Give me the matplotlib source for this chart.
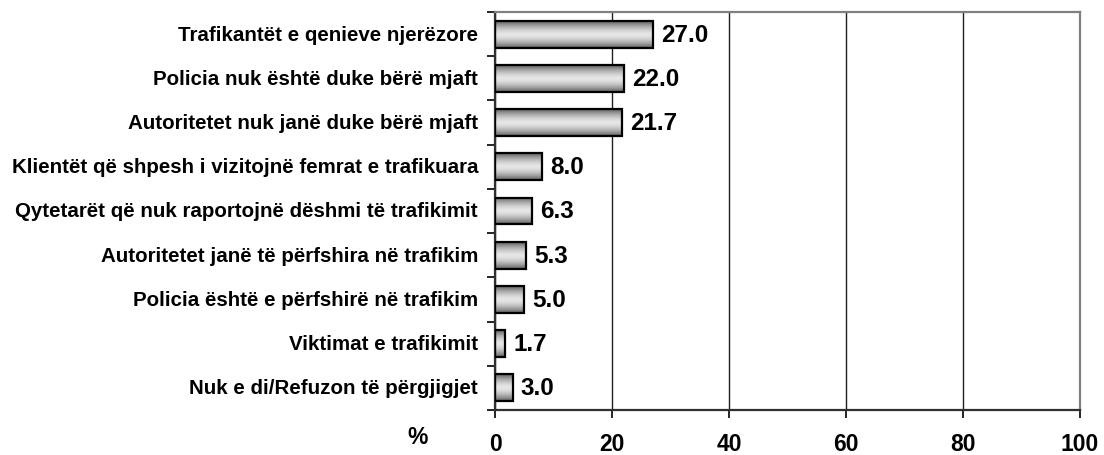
import numpy as np
import matplotlib
matplotlib.use("Agg")
from matplotlib import pyplot as plt

plt.rcParams['font.family'] = ['Liberation Sans', 'DejaVu Sans']
plt.rcParams['font.weight'] = 'bold'

# Data (top to bottom)
categories = [
    "Trafikantët e qenieve njerëzore",
    "Policia nuk është duke bërë mjaft",
    "Autoritetet nuk janë duke bërë mjaft",
    "Klientët që shpesh i vizitojnë femrat e trafikuara",
    "Qytetarët që nuk raportojnë dëshmi të trafikimit",
    "Autoritetet janë të përfshira në trafikim",
    "Policia është e përfshirë në trafikim",
    "Viktimat e trafikimit",
    "Nuk e di/Refuzon të përgjigjet",
]
values = [27.0, 22.0, 21.7, 8.0, 6.3, 5.3, 5.0, 1.7, 3.0]
xticks = [0, 20, 40, 60, 80, 100]

fig = plt.figure(figsize=(11.04, 4.56), dpi=100)
ax = fig.add_axes([495 / 1104, 1 - 411 / 456, 585 / 1104, 398 / 456])

n = len(categories)
y = np.arange(n)[::-1]
h = 0.61

# vertical shading for the bars: dark at edges, light in the middle
grad = np.linspace(-1, 1, 64)
shade = (1 - np.abs(grad) ** 1.6).reshape(-1, 1)
cmap = matplotlib.colors.LinearSegmentedColormap.from_list('g', ['#606060', '#e6e6e6'])

for yi, v in zip(y, values):
    ax.imshow(shade, cmap=cmap, aspect='auto', extent=(0, v, yi - h / 2, yi + h / 2),
              zorder=2, interpolation='bilinear')
ax.barh(y, values, height=h, facecolor='none', edgecolor='black', linewidth=1.6, zorder=3)

for yi, v in zip(y, values):
    ax.text(v + 1.4, yi, f"{v:.1f}", va='center', ha='left', fontsize=17.5, fontweight='bold')

ax.set_xlim(0, 100)
ax.set_ylim(-0.5, n - 0.5)
ax.set_xticks(xticks)
ax.set_xticklabels([str(t) for t in xticks], fontsize=16.5, fontweight='bold')

# category labels, ticks drawn between categories
ax.set_yticks(np.arange(n + 1) - 0.5)
ax.set_yticklabels([])
for yi, c in zip(y, categories):
    ax.text(-0.029, yi, c, transform=ax.get_yaxis_transform(), ha='right', va='center',
            fontsize=14.8, fontweight='bold')

ax.tick_params(axis='x', direction='out', length=6, width=1.2, pad=10, colors='black')
ax.tick_params(axis='y', direction='out', length=6, width=1.2)
ax.xaxis.grid(True, color='#202020', linewidth=1.0, zorder=0)
ax.set_axisbelow(True)

for s in ['top', 'right']:
    ax.spines[s].set_color('#808080')
    ax.spines[s].set_linewidth(1.6)
for s in ['left', 'bottom']:
    ax.spines[s].set_color('#303030')
    ax.spines[s].set_linewidth(1.6)

fig.text(418 / 1104, 1 - 438 / 456, "%", ha='center', va='center', fontsize=16.5, fontweight='bold')

plt.savefig('out.png', dpi=100)
